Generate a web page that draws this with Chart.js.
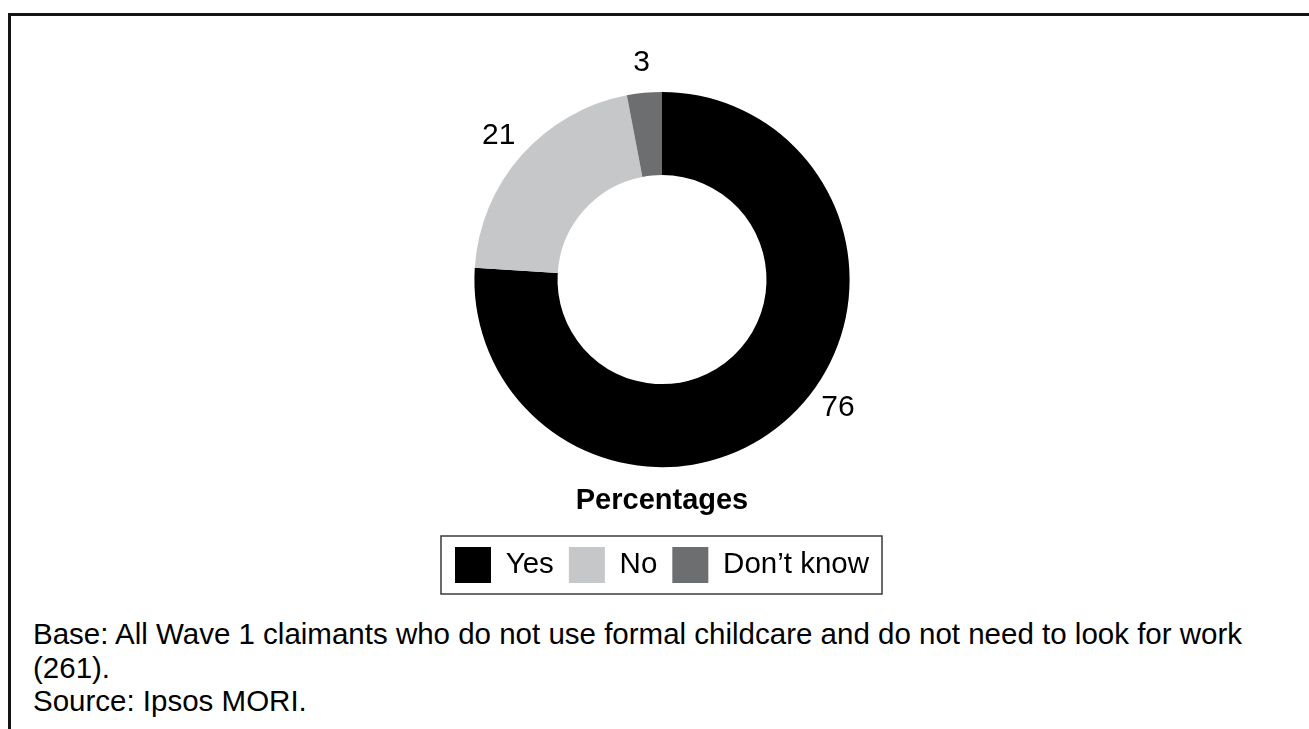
<!DOCTYPE html>
<html>
<head>
<meta charset="utf-8">
<script src="https://cdn.jsdelivr.net/npm/chart.js@4/dist/chart.umd.min.js"></script>
<style>
  html, body { margin: 0; padding: 0; background: #fff; overflow: hidden; }
  body { width: 1309px; height: 729px; position: relative; font-family: 'Liberation Sans', Arial, sans-serif; }
  .frame {
    position: absolute; left: 8px; top: 13px; width: 1400px; height: 800px;
    border-top: 3px solid #141414; border-left: 3px solid #141414;
  }
  .chart-box { position: absolute; left: 0; top: 0; width: 1309px; height: 610px; }
  .notes {
    position: absolute; left: 33px; top: 617px;
    font-size: 29.5px; line-height: 33.5px; color: #000; white-space: nowrap;
  }
</style>
</head>
<body>
<div class="frame"></div>
<div class="chart-box"><canvas id="chart"></canvas></div>
<div class="notes">
  Base: All Wave 1 claimants who do not use formal childcare and do not need to look for work<br>
  (261).<br>
  Source: Ipsos MORI.
</div>
<script>
const categories = ['Yes', 'No', 'Don\u2019t know'];
const percentages = [76, 21, 3];

const sliceColours = ['#000000', '#c6c7c9', '#6d6e70'];

// value labels sitting just outside each ring segment
const outsideLabels = {
  id: 'outsideLabels',
  afterDatasetsDraw(chart, args, opts) {
    const ctx = chart.ctx;
    const meta = chart.getDatasetMeta(0);
    ctx.save();
    ctx.font = opts.font;
    ctx.fillStyle = '#000';
    ctx.textAlign = 'center';
    ctx.textBaseline = 'middle';
    meta.data.forEach((arc, i) => {
      const p = arc.getProps(['x', 'y', 'startAngle', 'endAngle', 'outerRadius'], true);
      const mid = (p.startAngle + p.endAngle) / 2 + (opts.shift[i] || 0) * Math.PI / 180;
      const r = p.outerRadius + opts.offset;
      ctx.fillText(String(percentages[i]), p.x + r * Math.cos(mid), p.y + r * Math.sin(mid));
    });
    ctx.restore();
  }
};

// thin frame round the legend entries
const legendFrame = {
  id: 'legendFrame',
  afterDraw(chart) {
    const lg = chart.legend;
    if (!lg || !lg.legendHitBoxes.length) return;
    const boxes = lg.legendHitBoxes;
    const first = boxes[0];
    const last = boxes[boxes.length - 1];
    const ctx = chart.ctx;
    ctx.save();
    ctx.strokeStyle = '#3a3a3a';
    ctx.lineWidth = 1.5;
    ctx.strokeRect(first.left - 14, first.top - 11, last.left + last.width + 13 - (first.left - 14), first.height + 22);
    ctx.restore();
  }
};

Chart.defaults.font.family = "'Liberation Sans', Arial, sans-serif";
Chart.defaults.color = '#000';

new Chart(document.getElementById('chart'), {
  type: 'doughnut',
  data: {
    labels: categories,
    datasets: [{
      data: percentages,
      backgroundColor: sliceColours,
      borderWidth: 0
    }]
  },
  options: {
    responsive: true,
    maintainAspectRatio: false,
    animation: false,
    cutout: '55.7%',
    layout: { padding: { top: 92, bottom: 17, left: 15, right: 0 } },
    plugins: {
      tooltip: { enabled: false },
      title: {
        display: true,
        text: 'Percentages',
        position: 'bottom',
        weight: 500,
        font: { size: 29, weight: 'bold' },
        padding: { top: 16, bottom: 14 }
      },
      legend: {
        position: 'bottom',
        labels: {
          boxWidth: 36,
          boxHeight: 36,
          padding: 15,
          font: { size: 29.5 }
        }
      },
      outsideLabels: {
        font: "30px 'Liberation Sans', Arial, sans-serif",
        offset: 30,
        shift: [-10.8, 0, 0]
      }
    }
  },
  plugins: [outsideLabels, legendFrame]
});
</script>
</body>
</html>
